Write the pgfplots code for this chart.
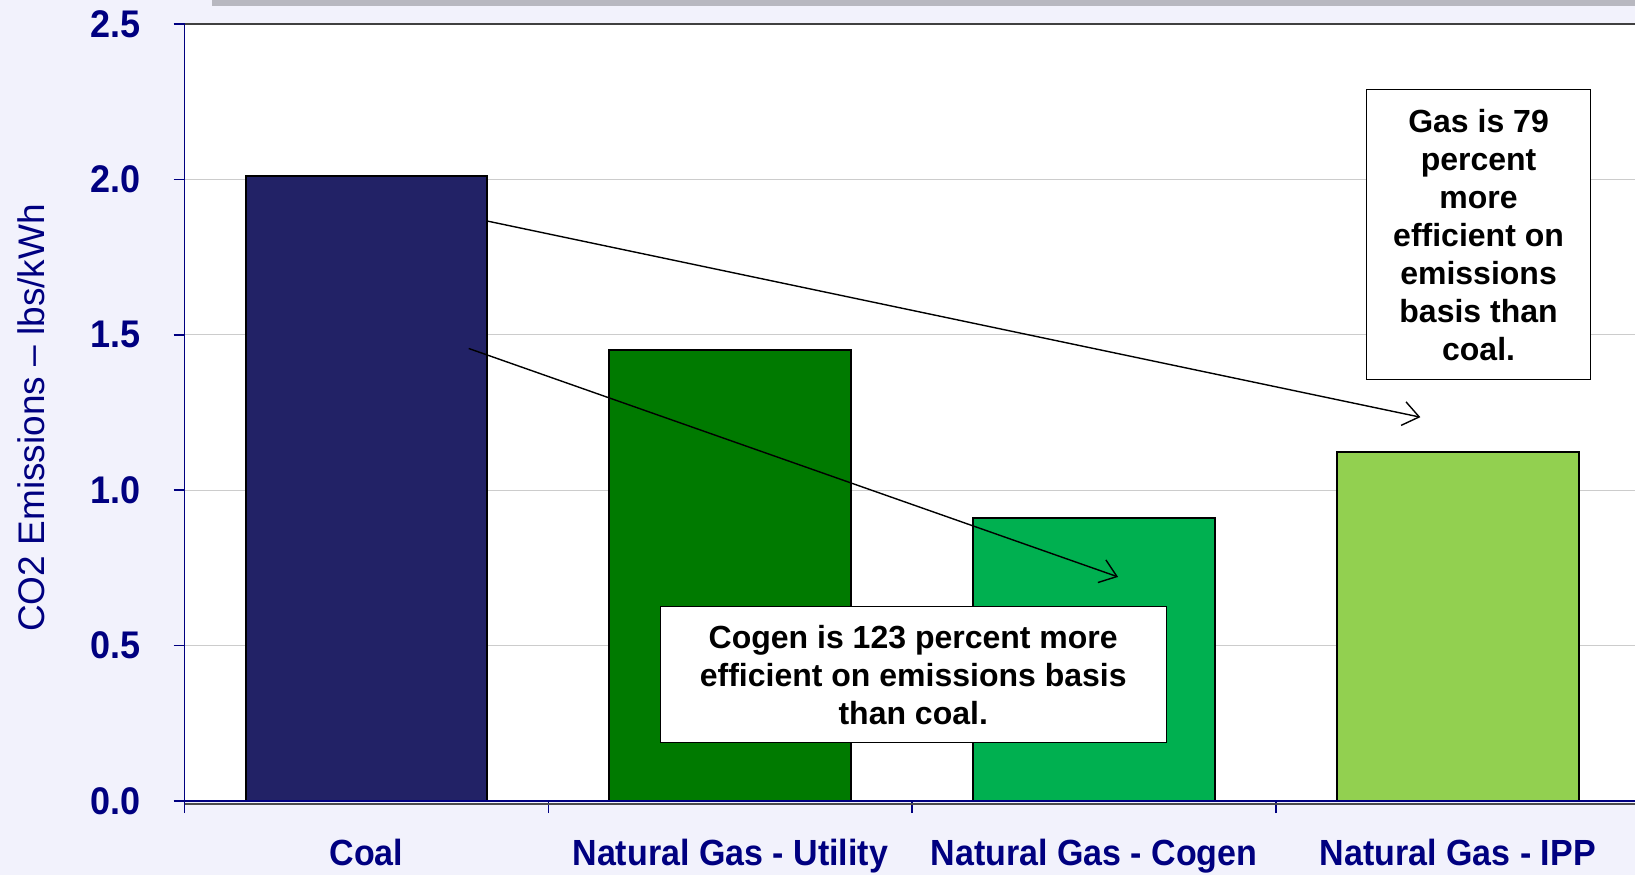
\documentclass[border=0pt]{standalone}
\usepackage{pgfplots}
\pgfplotsset{compat=1.18}
\usetikzlibrary{arrows.meta}
\usepackage{fontspec}
\setmainfont{Liberation Sans}
\definecolor{bg}{HTML}{F2F2FC}
\definecolor{navy}{HTML}{000080}
\definecolor{coal}{HTML}{222266}
\definecolor{util}{HTML}{007A00}
\definecolor{cogen}{HTML}{00B050}
\definecolor{ipp}{HTML}{92D050}
\definecolor{topbar}{HTML}{B8B8C0}
\begin{document}
\begin{tikzpicture}
\fill[bg] (0,0) rectangle (817.5pt,437.5pt);
\fill[topbar] (106pt,434.6pt) rectangle (817.5pt,437.5pt);
\begin{axis}[
  at={(92.3pt,37pt)}, anchor=south west,
  scale only axis, width=725.2pt, height=388.5pt,
  xmin=-0.5, xmax=3.487, ymin=0, ymax=2.5,
  axis background/.style={fill=white},
  axis x line*=bottom, axis y line*=left,
  axis line style={navy, line width=0.8pt},
  ytick={0,0.5,1,1.5,2,2.5},
  yticklabels={0.0,0.5,1.0,1.5,2.0,2.5},
  xtick={0,1,2,3},
  xticklabels={Coal, Natural Gas - Utility, Natural Gas - Cogen, Natural Gas - IPP},
  major x tick style={draw=none},
  minor xtick={-0.5,0.5,1.5,2.5},
  tick align=outside, major tick length=5.5pt, minor tick length=6pt,
  tick style={navy, line width=0.8pt},
  ymajorgrids, major grid style={draw=black!20, line width=0.6pt},
  yticklabel style={font=\bfseries\fontsize{18}{18}\selectfont, text=navy, anchor=east, inner sep=0pt, xshift=-16.5pt, yscale=1.07},
  xticklabel style={font=\bfseries\fontsize{17}{17}\selectfont, text=navy, anchor=base, inner sep=0pt, yshift=-26.5pt, yscale=1.07},
  ylabel={CO2 Emissions – lbs/kWh},
  ylabel style={at={(axis description cs:-0.1059,0.493)}, anchor=center, font=\fontsize{18.5}{20}\selectfont, text=navy, inner sep=0pt},
  clip=false,
]
\addplot[ybar, bar shift=0pt, bar width=0.665, fill=coal, draw=black, line width=1pt] coordinates {(0,2.01)};
\addplot[ybar, bar shift=0pt, bar width=0.665, fill=util, draw=black, line width=1pt] coordinates {(1,1.45)};
\addplot[ybar, bar shift=0pt, bar width=0.665, fill=cogen, draw=black, line width=1pt] coordinates {(2,0.91)};
\addplot[ybar, bar shift=0pt, bar width=0.665, fill=ipp, draw=black, line width=1pt] coordinates {(3,1.124)};
\draw[black!70, line width=1.4pt] ([yshift=-1.5pt]rel axis cs:0,0) -- ([yshift=-1.5pt]rel axis cs:1,0);
\draw[navy, line width=0.8pt] (rel axis cs:0,0) -- (rel axis cs:1,0);
\draw[black!75, line width=0.9pt] (rel axis cs:0,1) -- (rel axis cs:1,1);
\draw[line width=0.7pt, -{Straight Barb[length=8pt,width=12pt]}] (axis cs:0.332,1.866) -- (axis cs:2.897,1.235);
\draw[line width=0.7pt, -{Straight Barb[length=8pt,width=12pt]}] (axis cs:0.281,1.456) -- (axis cs:2.066,0.721);
\node[draw=black, line width=0.5pt, fill=white, minimum width=253pt, minimum height=68pt, align=center, font=\bfseries\fontsize{16}{19}\selectfont, inner sep=0pt] at (axis cs:1.503,0.406) {Cogen is 123 percent more\\efficient on emissions basis\\than coal.};
\node[draw=black, line width=0.5pt, fill=white, minimum width=111.6pt, minimum height=145pt, align=center, font=\bfseries\fontsize{16}{19}\selectfont, inner sep=0pt] at (axis cs:3.057,1.822) {Gas is 79\\percent\\more\\efficient on\\emissions\\basis than\\coal.};
\end{axis}
\pgfresetboundingbox
\path (0,0) rectangle (817.5pt,437.5pt);
\end{tikzpicture}
\end{document}
